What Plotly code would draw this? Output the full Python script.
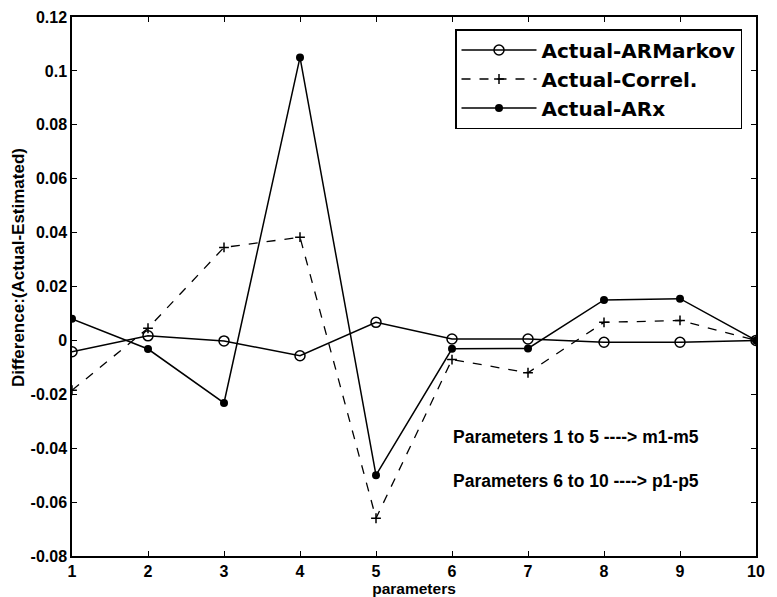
import plotly.graph_objects as go

params = [1, 2, 3, 4, 5, 6, 7, 8, 9, 10]
armarkov = [-0.0042, 0.0017, -0.0002, -0.0057, 0.0067, 0.0005, 0.0005, -0.0007, -0.0007, 0.0]
correl = [-0.0185, 0.0045, 0.0345, 0.0383, -0.066, -0.0071, -0.012, 0.0067, 0.0074, 0.0]
arx = [0.008, -0.0032, -0.0232, 0.105, -0.050, -0.0031, -0.003, 0.015, 0.0155, 0.0]

x_ticks = list(range(1, 11))
y_ticks = [-0.08, -0.06, -0.04, -0.02, 0, 0.02, 0.04, 0.06, 0.08, 0.1, 0.12]
y_tick_text = ["-0.08", "-0.06", "-0.04", "-0.02", "0", "0.02", "0.04", "0.06", "0.08", "0.1", "0.12"]

FONT = "Liberation Sans, Arial, sans-serif"
LEGEND_FONT = "DejaVu Sans, Liberation Sans, sans-serif"

# The page body has an 8px margin, so the figure is 8px smaller than the window
W, H = 769, 589
L, R, T, B = 64, 21, 9, 41
plot_w, plot_h = W - L - R, H - T - B

fig = go.Figure()
fig.add_trace(go.Scatter(
    x=params, y=armarkov, name="Actual-ARMarkov", mode="lines+markers",
    line=dict(color="black", width=1.5),
    marker=dict(symbol="circle-open", size=10, color="black", line=dict(width=1.5))))
fig.add_trace(go.Scatter(
    x=params, y=correl, name="Actual-Correl.", mode="lines+markers",
    line=dict(color="black", width=1.3, dash="dash"),
    marker=dict(symbol="cross-thin", size=7, color="black", line=dict(width=1.5, color="black"))))
fig.add_trace(go.Scatter(
    x=params, y=arx, name="Actual-ARx", mode="lines+markers",
    line=dict(color="black", width=1.5),
    marker=dict(symbol="circle", size=8, color="black")))

axis_common = dict(
    showgrid=False, zeroline=False, showline=True, linecolor="black", linewidth=1.5,
    mirror="ticks", ticks="inside", ticklen=5, tickcolor="black", automargin=False,
    tickfont=dict(family=FONT, size=16, color="black", weight="bold"),
)

fig.update_layout(
    width=W, height=H,
    margin=dict(l=L, r=R, t=T, b=B, pad=0),
    paper_bgcolor="white", plot_bgcolor="white",
    font=dict(family=FONT, color="black"),
    xaxis=dict(range=[1, 10], tickvals=x_ticks,
               title=dict(text="parameters", font=dict(family=FONT, size=15.5, color="black", weight="bold"), standoff=0),
               **axis_common),
    yaxis=dict(range=[-0.08, 0.12], tickvals=y_ticks, ticktext=y_tick_text, **axis_common),
    legend=dict(x=(447 - L) / plot_w, y=(H - B - 21) / plot_h, xanchor="left", yanchor="top",
                bgcolor="white", bordercolor="black", borderwidth=1.5,
                font=dict(family=LEGEND_FONT, size=20, color="black", weight="bold"),
                tracegroupgap=0, itemwidth=75),
    showlegend=True,
    annotations=[
        dict(x=(10 - L) / plot_w, y=(H - B - 260) / plot_h, xref="paper", yref="paper",
             xanchor="center", yanchor="middle", showarrow=False,
             text="Difference:(Actual-Estimated)", textangle=-90,
             font=dict(family=FONT, size=17, color="black", weight="bold")),
        dict(x=(443 - L) / plot_w, y=(H - B - 429) / plot_h, xref="paper", yref="paper",
             xanchor="left", yanchor="middle",
             text="Parameters 1 to 5 ----> m1-m5", showarrow=False,
             font=dict(family=FONT, size=17.5, color="black", weight="bold")),
        dict(x=(443 - L) / plot_w, y=(H - B - 473) / plot_h, xref="paper", yref="paper",
             xanchor="left", yanchor="middle",
             text="Parameters 6 to 10 ----> p1-p5", showarrow=False,
             font=dict(family=FONT, size=17.5, color="black", weight="bold")),
    ],
)

fig.write_html("out.html")
